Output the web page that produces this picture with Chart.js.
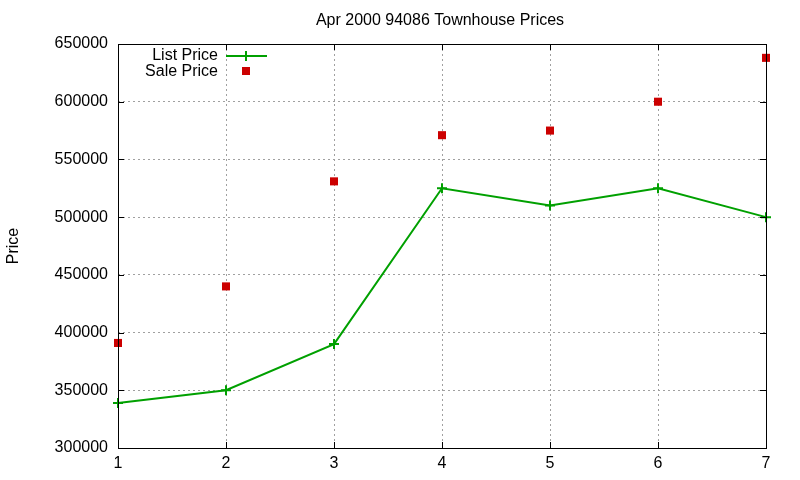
<!DOCTYPE html>
<html>
<head>
<meta charset="utf-8">
<script src="https://cdn.jsdelivr.net/npm/chart.js@4"></script>
<style>
  html, body { margin: 0; padding: 0; background: #fff; }
  #wrap { width: 800px; height: 480px; }
</style>
</head>
<body>
<div id="wrap"><canvas id="chart"></canvas></div>
<script>
// data
const months = [1, 2, 3, 4, 5, 6, 7];
const listPrice = [339000, 350000, 390000, 525000, 510000, 525000, 500000];
const salePrice = [391000, 440000, 531000, 571000, 575000, 600000, 638000];
const yTicks = [300000, 350000, 400000, 450000, 500000, 550000, 600000, 650000];

const FONT = "'Liberation Sans', Arial, sans-serif";

// gnuplot-ish frame: title, border, inward ticks, legend
const gnuplotFrame = {
  id: "gnuplotFrame",
  afterDraw(chart) {
    const ctx = chart.ctx;
    const a = chart.chartArea;
    const xs = chart.scales.x, ys = chart.scales.y;
    ctx.save();

    // title
    ctx.fillStyle = "#000";
    ctx.font = "16px " + FONT;
    ctx.textAlign = "center";
    ctx.textBaseline = "middle";
    ctx.fillText("Apr 2000 94086 Townhouse Prices", (a.left + a.right) / 2 - 2, 21);

    // border
    ctx.strokeStyle = "#000";
    ctx.lineWidth = 1;
    ctx.strokeRect(Math.round(a.left) + 0.5, Math.round(a.top) + 0.5,
      Math.round(a.right - a.left), Math.round(a.bottom - a.top));

    // inward ticks
    ctx.beginPath();
    yTicks.forEach(v => {
      const y = Math.round(ys.getPixelForValue(v)) + 0.5;
      ctx.moveTo(a.left, y); ctx.lineTo(a.left + 6, y);
      ctx.moveTo(a.right, y); ctx.lineTo(a.right - 6, y);
    });
    months.forEach(v => {
      const x = Math.round(xs.getPixelForValue(v)) + 0.5;
      ctx.moveTo(x, a.bottom); ctx.lineTo(x, a.bottom - 6);
      ctx.moveTo(x, a.top); ctx.lineTo(x, a.top + 6);
    });
    ctx.stroke();

    // legend
    const ds = chart.data.datasets;
    ctx.textAlign = "right";
    ctx.fillStyle = "#000";
    ctx.fillText(ds[0].label, 218, 56);
    ctx.fillText(ds[1].label, 218, 72);

    ctx.strokeStyle = ds[0].borderColor;
    ctx.lineWidth = 2;
    ctx.beginPath();
    ctx.moveTo(226, 56); ctx.lineTo(267, 56);
    ctx.moveTo(246, 51); ctx.lineTo(246, 61);
    ctx.stroke();

    ctx.fillStyle = ds[1].backgroundColor;
    ctx.fillRect(242, 67, 8, 8);

    ctx.restore();
  }
};

new Chart(document.getElementById("chart"), {
  type: "line",
  data: {
    datasets: [{
      label: "List Price",
      data: months.map((m, i) => ({ x: m, y: listPrice[i] })),
      borderColor: "#00a000",
      backgroundColor: "#00a000",
      borderWidth: 2,
      pointStyle: "cross",
      pointRadius: 5,
      pointBorderWidth: 2,
      tension: 0,
      clip: false
    }, {
      label: "Sale Price",
      data: months.map((m, i) => ({ x: m, y: salePrice[i] })),
      showLine: false,
      borderColor: "#cc0000",
      backgroundColor: "#cc0000",
      pointStyle: "rect",
      pointRadius: 5.7,
      pointBorderWidth: 0,
      clip: false
    }]
  },
  options: {
    responsive: true,
    maintainAspectRatio: false,
    animation: false,
    layout: { padding: { top: 44, right: 34, left: 0, bottom: 0 } },
    plugins: {
      legend: { display: false },
      tooltip: { enabled: false }
    },
    scales: {
      x: {
        type: "linear",
        min: 1,
        max: 7,
        ticks: { stepSize: 1, color: "#000", font: { family: FONT, size: 16 }, padding: 6 },
        grid: { color: "#a0a0a0", drawTicks: false },
        border: { display: false, dash: [2, 3] },
        afterFit: s => { s.height = 32; }
      },
      y: {
        min: 300000,
        max: 650000,
        ticks: {
          stepSize: 50000, color: "#000", font: { family: FONT, size: 16 }, padding: 10,
          callback: v => String(v)
        },
        grid: { color: "#a0a0a0", drawTicks: false },
        border: { display: false, dash: [2, 3] },
        title: { display: true, text: "Price", color: "#000", font: { family: FONT, size: 16 }, padding: { top: 4, bottom: 22 } },
        afterFit: s => { s.width = 118; }
      }
    }
  },
  plugins: [gnuplotFrame]
});
</script>
</body>
</html>
